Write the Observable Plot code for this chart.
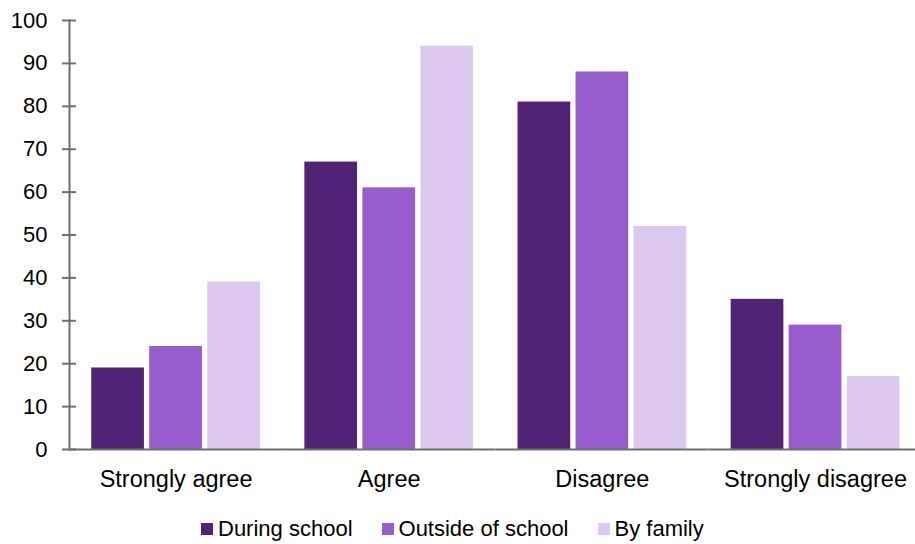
<!DOCTYPE html>
<html>
<head>
<meta charset="utf-8">
<script src="https://cdn.jsdelivr.net/npm/d3@7"></script>
<script src="https://cdn.jsdelivr.net/npm/@observablehq/plot@0.6"></script>
<style>
  body { margin: 0; background: #fff; font-family: "Liberation Sans", Arial, sans-serif; }
  #wrap { position: relative; width: 915px; height: 544px; }
  #legend { position: absolute; top: 518px; left: 201px; display: flex; align-items: center;
            font-size: 22px; line-height: 22px; color: #000; white-space: nowrap; }
  .item { display: flex; align-items: center; margin-right: 29px; }
  .sw { width: 12px; height: 12px; margin-right: 5px; }
</style>
</head>
<body>
<div id="wrap"><div id="legend"></div></div>
<script>
// Response categories along the x axis
const categories = ["Strongly agree", "Agree", "Disagree", "Strongly disagree"];
// Series (where the respondent hears about it)
const seriesNames = ["During school", "Outside of school", "By family"];
const duringSchool = [19, 67, 81, 35];
const outsideSchool = [24, 61, 88, 29];
const byFamily = [39, 94, 52, 17];
const seriesColors = ["#512375", "#985ccd", "#ddc9ef"];
const yTicks = [0, 10, 20, 30, 40, 50, 60, 70, 80, 90, 100];

const seriesValues = [duringSchool, outsideSchool, byFamily];
const rows = [];
categories.forEach((c, i) => {
  seriesNames.forEach((s, j) => rows.push({category: c, series: s, value: seriesValues[j][i]}));
});

const axisGrey = "#6f6f6f";
const font = "'Liberation Sans', Arial, sans-serif";

const chart = Plot.plot({
  width: 915,
  height: 500,
  marginTop: 20,
  marginBottom: 51,
  marginLeft: 69,
  marginRight: 0,
  style: {fontFamily: font, fontSize: "22px", color: "#000", background: "#fff", overflow: "hidden"},
  fx: {domain: categories, range: [69, 921.6], padding: 0, round: false, label: null},
  x: {domain: seriesNames, paddingInner: 0.0914, paddingOuter: 0.383, round: false, axis: null, label: null},
  y: {domain: [0, 100], label: null},
  color: {domain: seriesNames, range: seriesColors},
  marks: [
    Plot.barY(rows, {fx: "category", x: "series", y: "value", fill: "series"}),
    Plot.ruleY([0], {stroke: axisGrey, strokeWidth: 2}),
    Plot.frame({anchor: "left", facetAnchor: "left", stroke: axisGrey, strokeWidth: 2}),
    Plot.axisY({ticks: yTicks, tickSize: 14, dx: 7, tickPadding: 15, stroke: axisGrey,
                strokeWidth: 2, fill: "#000", fontSize: 22, label: null}),
    Plot.axisFx({anchor: "bottom", tickSize: 0, tickPadding: 21, fontSize: 23.5, fill: "#000", label: null})
  ]
});

document.getElementById("wrap").prepend(chart);

// Legend below the chart
const legend = document.getElementById("legend");
seriesNames.forEach((name, i) => {
  const item = document.createElement("div");
  item.className = "item";
  const sw = document.createElement("span");
  sw.className = "sw";
  sw.style.background = seriesColors[i];
  const label = document.createElement("span");
  label.textContent = name;
  item.append(sw, label);
  legend.append(item);
});
</script>
</body>
</html>
